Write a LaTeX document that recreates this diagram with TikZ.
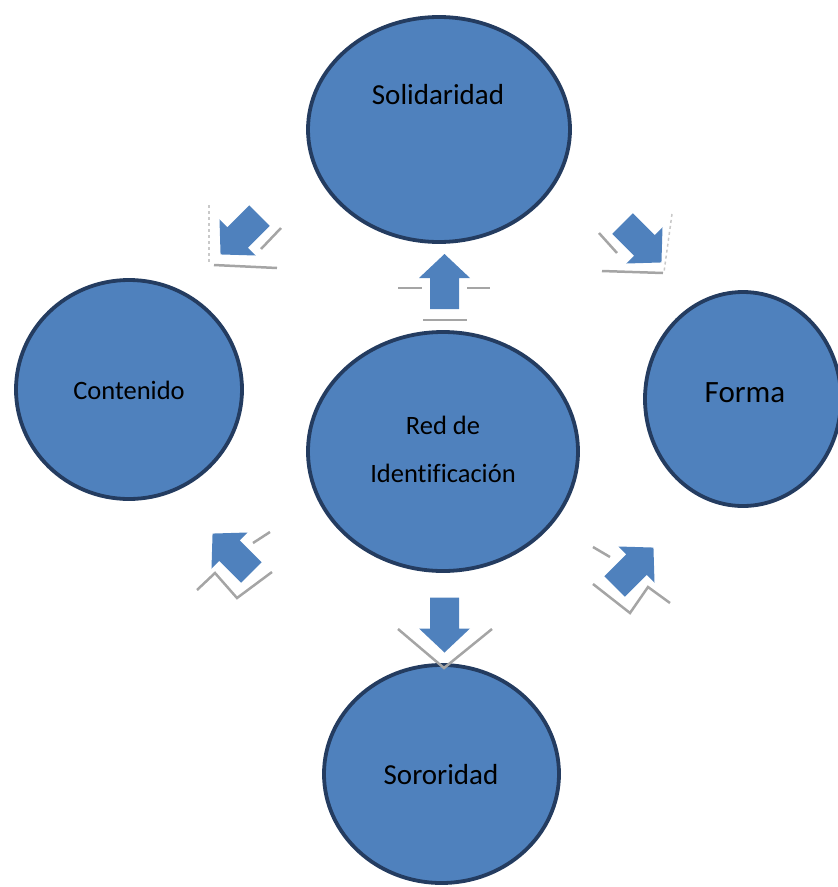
\documentclass[tikz,border=0pt]{standalone}
\usepackage{fontspec}
\setmainfont{Carlito}[Ligatures=NoCommon]
\usetikzlibrary{shapes.geometric}
\definecolor{bubblefill}{RGB}{79,129,189}
\definecolor{bubbleline}{RGB}{36,60,96}
\definecolor{shadegrey}{RGB}{165,165,165}

\tikzset{
  pics/blockarrow/.style={code={
    \fill[bubblefill] (0,-27.5) -- (25.5,-3.5) -- (14.5,-3.5) -- (14.5,27.5)
      -- (-14.5,27.5) -- (-14.5,-3.5) -- (-25.5,-3.5) -- cycle;
  }}
}

\begin{document}
\begin{tikzpicture}[x=1pt, y=-1pt,
    bubble/.style={ellipse, draw=bubbleline, line width=3.8pt, fill=bubblefill, inner sep=0pt},
    shade/.style={draw=shadegrey, line width=2.5pt},
    faint/.style={draw=shadegrey!60, line width=1.5pt, dashed},
    lbl/.style={font=\fontsize{26.5}{48}\selectfont, align=center}]
  \useasboundingbox (0,0) rectangle (838,887);

  % Circles
  \node[bubble, minimum width=262, minimum height=225] (sol) at (439,129.5) {};
  \node[bubble, minimum width=226, minimum height=219] (con) at (129,389.5) {};
  \node[bubble, minimum width=270, minimum height=239] (red) at (443,451.5) {};
  \node[bubble, minimum width=196, minimum height=214] (form) at (743,399) {};
  \node[bubble, minimum width=235, minimum height=218] (sor) at (441.5,774) {};

  % Labels
  \node[lbl, font=\fontsize{29}{34}\selectfont] (sol-lbl) at (438,95) {Solidaridad};
  \node[lbl] (con-lbl) at (129,390) {Contenido};
  \node[lbl] (red-lbl) at (443,449) {Red de\\Identificación};
  \node[lbl, font=\fontsize{31}{36}\selectfont] (form-lbl) at (745,393) {Forma};
  \node[lbl, font=\fontsize{29}{34}\selectfont] (sor-lbl) at (441,775) {Sororidad};

  % Grey shading round the arrows
  \draw[shade] (398,288) -- (422,288);
  \draw[shade] (467,288) -- (490,288);
  \draw[shade] (423,320) -- (467,320);
  \draw[shade] (398,629) -- (444,668) -- (492,629);
  \draw[faint] (209,205) -- (209,262);
  \draw[shade] (214,265) -- (277,268);
  \draw[shade] (261,249) -- (281,228);
  \draw[shade] (599,233) -- (617,253);
  \draw[faint] (672,214) -- (664,272);
  \draw[shade] (602,271) -- (663,273);
  \draw[shade] (253,543) -- (270,532);
  \draw[shade] (197,590) -- (215,573) -- (237,598) -- (272,572);
  \draw[shade] (593,547) -- (610,557);
  \draw[shade] (593,584) -- (630,613) -- (648,587) -- (670,603);

  % Arrows
  \pic at (444.5,281.5) {blockarrow};
  \pic[rotate=180] at (444.5,625) {blockarrow};
  \pic[rotate=135] at (240,235) {blockarrow};
  \pic[rotate=225] at (642,243) {blockarrow};
  \pic[rotate=45] at (232,553) {blockarrow};
  \pic[rotate=-45] at (634,567) {blockarrow};
\end{tikzpicture}
\end{document}
